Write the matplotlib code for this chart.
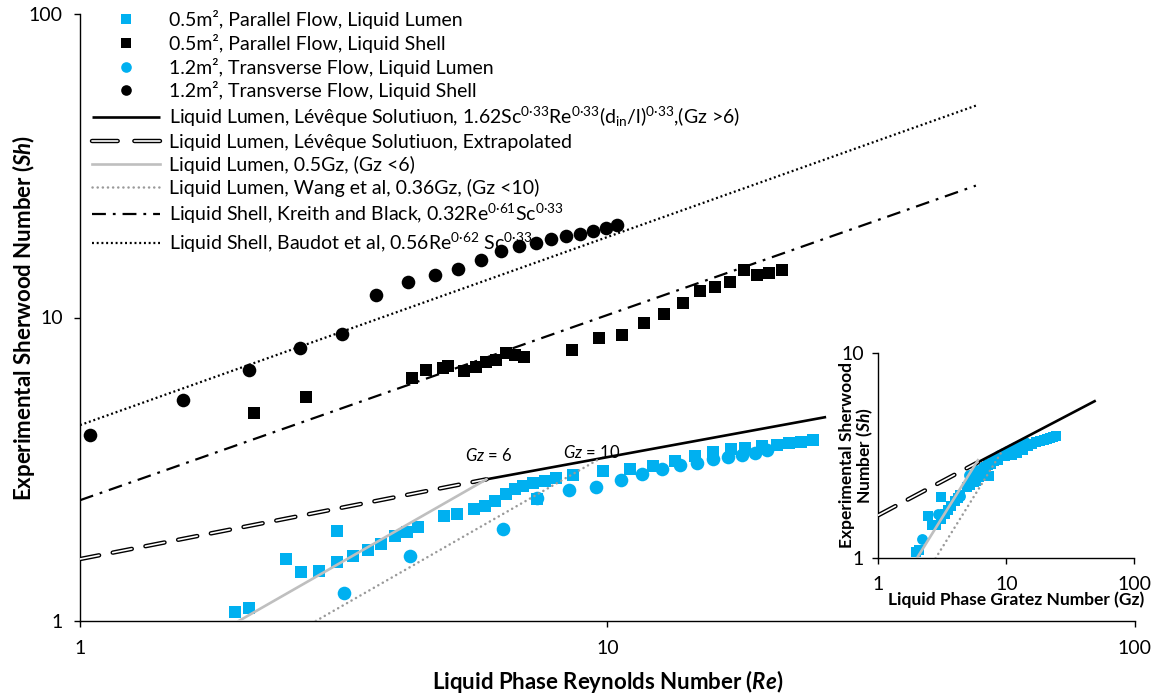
import matplotlib
matplotlib.use("Agg")
import matplotlib.pyplot as plt
from matplotlib.lines import Line2D
from matplotlib.ticker import NullLocator
from matplotlib.legend_handler import HandlerTuple

plt.rcParams["font.family"] = ["Lato", "DejaVu Sans"]
plt.rcParams["mathtext.fontset"] = "custom"
plt.rcParams["mathtext.rm"] = "Lato"
plt.rcParams["mathtext.it"] = "Lato:italic"
plt.rcParams["mathtext.bf"] = "Lato:bold"
plt.rcParams["mathtext.bfit"] = "Lato:bold:italic"
plt.rcParams["lines.scale_dashes"] = False

BLUE = "#00B0F0"

# 0.5 m2 module, parallel flow, liquid in the lumen
lumen_sq_re = [1.97, 2.09, 2.46, 2.63, 2.84, 3.07, 3.07, 3.29, 3.51, 3.72, 3.95, 4.17,
               4.38, 4.91, 5.19, 5.59, 5.85, 6.13, 6.43, 6.68, 6.93, 7.24, 7.37, 7.62,
               7.99, 8.60, 9.80, 11.04, 12.23, 13.44, 14.67, 15.89, 17.14, 18.27, 19.63,
               20.96, 22.14, 23.27, 24.59]
lumen_sq_sh = [1.07, 1.10, 1.60, 1.45, 1.46, 1.98, 1.56, 1.64, 1.71, 1.80, 1.91, 1.97,
               2.04, 2.21, 2.26, 2.34, 2.39, 2.49, 2.63, 2.72, 2.79, 2.84, 2.52, 2.89,
               2.97, 3.02, 3.13, 3.18, 3.24, 3.37, 3.50, 3.61, 3.68, 3.72, 3.77,
               3.80, 3.85, 3.89, 3.95]
# Gz and Re coincide for the 0.5 m2 module
lumen_sq_gz = lumen_sq_re

# 0.5 m2 module, parallel flow, liquid on the shell side
shell_sq_re = [2.14, 2.68, 4.27, 4.53, 4.87, 4.99, 5.35, 5.64, 5.89, 6.15, 6.43, 6.68,
               6.95, 8.56, 9.63, 10.66, 11.74, 12.81, 13.9, 15.0, 16.0, 17.1, 18.2,
               19.2, 20.3, 21.4]
shell_sq_sh = [4.86, 5.46, 6.33, 6.70, 6.83, 6.94, 6.66, 6.88, 7.12, 7.24, 7.66, 7.52,
               7.39, 7.81, 8.58, 8.78, 9.61, 10.27, 11.19, 12.26, 12.64, 13.1, 14.3,
               13.8, 14.0, 14.3]

# 1.2 m2 module, transverse flow, liquid in the lumen
lumen_ci_re = [3.17, 4.23, 6.34, 7.37, 8.46, 9.52, 10.6, 11.64, 12.68, 13.74, 14.82,
               15.87, 16.96, 17.98, 19.06, 20.11]
lumen_ci_sh = [1.24, 1.64, 2.01, 2.55, 2.70, 2.77, 2.91, 3.05, 3.17, 3.26, 3.32,
               3.41, 3.48, 3.52, 3.58, 3.66]
lumen_ci_gz = [2.19, 2.92, 4.37, 5.09, 5.84, 6.57, 7.31, 8.03, 8.75, 9.48, 10.2,
               10.95, 11.7, 12.4, 13.15, 13.9]

# 1.2 m2 module, transverse flow, liquid on the shell side
shell_ci_re = [1.044, 1.568, 2.09, 2.61, 3.14, 3.65, 4.18, 4.71, 5.22, 5.75, 6.28,
               6.80, 7.34, 7.83, 8.35, 8.87, 9.38, 9.96, 10.45]
shell_ci_sh = [4.09, 5.34, 6.70, 7.95, 8.84, 11.9, 13.1, 13.8, 14.5, 15.5, 16.6,
               17.2, 17.6, 18.1, 18.6, 18.9, 19.3, 19.7, 20.1]

# correlation end points (main plot, x = Re)
leveque_re, leveque_sh = [5.9, 26.0], [2.93, 4.70]
leveque_ext_re, leveque_ext_sh = [1.0, 5.9], [1.60, 2.93]
half_gz_re, half_gz_sh = [2.0, 5.9], [1.0, 2.93]
wang_re, wang_sh = [2.8, 9.6], [1.0, 3.40]
kreith_re, kreith_sh = [1.0, 50.0], [2.50, 27.2]
baudot_re, baudot_sh = [1.0, 50.0], [4.42, 49.9]

# correlation end points (inset, x = Gz)
leveque_gz, leveque_gz_sh = [6.0, 50.0], [2.93, 5.85]
leveque_ext_gz, leveque_ext_gz_sh = [1.0, 6.0], [1.62, 2.93]
half_gz_gz, half_gz_gz_sh = [2.0, 6.0], [1.0, 3.0]
wang_gz, wang_gz_sh = [2.8, 9.3], [1.0, 3.33]

labels = [
    "0.5m², Parallel Flow, Liquid Lumen",
    "0.5m², Parallel Flow, Liquid Shell",
    "1.2m², Transverse Flow, Liquid Lumen",
    "1.2m², Transverse Flow, Liquid Shell",
    r"Liquid Lumen, Lévêque Solutiuon, 1.62Sc$^{\mathrm{0·33}}$Re$^{\mathrm{0·33}}$"
    r"(d$_{\mathrm{in}}$/l)$^{\mathrm{0·33}}$,(Gz >6)",
    "Liquid Lumen, Lévêque Solutiuon, Extrapolated",
    "Liquid Lumen, 0.5Gz, (Gz <6)",
    "Liquid Lumen, Wang et al, 0.36Gz, (Gz <10)",
    r"Liquid Shell, Kreith and Black, 0.32Re$^{\mathrm{0·61}}$Sc$^{\mathrm{0·33}}$",
    r"Liquid Shell, Baudot et al, 0.56Re$^{\mathrm{0·62}}$ Sc$^{\mathrm{0·33}}$",
]

W, H = 1159, 700
fig = plt.figure(figsize=(W / 100, H / 100), dpi=100)
ax = fig.add_axes([80 / W, 1 - 621 / H, 1054.6 / W, 607 / H])

MS = 9.2
sq1, = ax.plot(lumen_sq_re, lumen_sq_sh, "s", color=BLUE, ms=MS, mew=0, zorder=3)
sq2, = ax.plot(shell_sq_re, shell_sq_sh, "s", color="black", ms=MS, mew=0, zorder=3)
ci1, = ax.plot(lumen_ci_re, lumen_ci_sh, "o", color=BLUE, ms=MS + 0.6, mew=0, zorder=3)
ci2, = ax.plot(shell_ci_re, shell_ci_sh, "o", color="black", ms=MS + 0.6, mew=0, zorder=3)

HOLLOW_DASH = (0, (14, 10))


def draw_lines(a, lev, ext, half, wang, kreith=None, baudot=None):
    out = []
    out.append(a.plot(*lev, color="black", lw=1.9, solid_capstyle="butt", zorder=4)[0])
    # hollow dashes: thick black dash with a thin white dash on top
    a.plot(*ext, color="black", lw=3.2, ls=HOLLOW_DASH, dash_capstyle="round", zorder=4)
    a.plot(*ext, color="white", lw=1.2, ls=HOLLOW_DASH, dash_capstyle="round", zorder=4)
    out.append(None)
    out.append(a.plot(*half, color="#BFBFBF", lw=1.9, zorder=4)[0])
    out.append(a.plot(*wang, color="#9A9A9A", lw=1.8, ls=(0, (0.1, 3.6)),
                      dash_capstyle="round", zorder=4)[0])
    if kreith is not None:
        out.append(a.plot(*kreith, color="black", lw=1.6, ls=(0, (10, 5, 2, 5)),
                          zorder=4)[0])
        out.append(a.plot(*baudot, color="black", lw=1.6, ls=(0, (1.4, 2.0)),
                          zorder=4)[0])
    return out


line_handles = draw_lines(ax, (leveque_re, leveque_sh), (leveque_ext_re, leveque_ext_sh),
                          (half_gz_re, half_gz_sh), (wang_re, wang_sh),
                          (kreith_re, kreith_sh), (baudot_re, baudot_sh))
# legend key for the hollow dashes: two dashes across the key
line_handles[1] = (
    Line2D([], [], color="black", lw=3.2, ls=(0, (18.5, 12)), dash_capstyle="round"),
    Line2D([], [], color="white", lw=1.2, ls=(0, (18.5, 12)), dash_capstyle="round"),
)

ax.text(5.97, 3.50, r"$\mathit{Gz}$ = 6", fontsize=12, ha="center", va="center")
ax.text(9.35, 3.58, r"$\mathit{Gz}$ = 10", fontsize=12, ha="center", va="center")


def style_log_axes(a, xlim, ylim, pad_x, pad_y, size):
    a.set_xscale("log")
    a.set_yscale("log")
    a.set_xlim(*xlim)
    a.set_ylim(*ylim)
    xt = [v for v in (1, 10, 100) if xlim[0] <= v <= xlim[1]]
    yt = [v for v in (1, 10, 100) if ylim[0] <= v <= ylim[1]]
    a.set_xticks(xt)
    a.set_xticklabels([str(v) for v in xt])
    a.set_yticks(yt)
    a.set_yticklabels([str(v) for v in yt])
    a.xaxis.set_minor_locator(NullLocator())
    a.yaxis.set_minor_locator(NullLocator())
    for s in ("top", "right"):
        a.spines[s].set_visible(False)
    for s in ("left", "bottom"):
        a.spines[s].set_linewidth(1.0)
        a.spines[s].set_color("black")
    a.tick_params(axis="x", direction="out", length=4.5, width=1, labelsize=size, pad=pad_x)
    a.tick_params(axis="y", direction="out", length=4.5, width=1, labelsize=size, pad=pad_y)


style_log_axes(ax, (1, 100), (1, 100), 9, 8, 14)
ax.set_facecolor("none")
ax.set_xlabel(r"Liquid Phase Reynolds Number ($\mathbfit{Re}$)", fontsize=16,
              fontweight="bold", labelpad=8)
ax.set_ylabel(r"Experimental Sherwood Number ($\mathbfit{Sh}$)", fontsize=16,
              fontweight="bold")
ax.yaxis.set_label_coords(-0.041, 0.5)

handles = [sq1, sq2, ci1, ci2] + line_handles
leg = ax.legend(handles, labels, loc="upper left",
                bbox_to_anchor=(92 / W, 1 - 10 / H), bbox_transform=fig.transFigure,
                frameon=False, fontsize=14, handlelength=3.5, handletextpad=0.45,
                labelspacing=0.245, borderpad=0, borderaxespad=0, markerscale=0.78,
                handler_map={tuple: HandlerTuple(ndivide=1)})

# inset: Sherwood number against Graetz number for the lumen-side data
ins = fig.add_axes([878.3 / W, 1 - 558.3 / H, 256 / W, 205.6 / H])
ins.set_facecolor("none")
ins.plot(lumen_sq_gz, lumen_sq_sh, "s", color=BLUE, ms=7.4, mew=0, zorder=3)
ins.plot(lumen_ci_gz, lumen_ci_sh, "o", color=BLUE, ms=7.8, mew=0, zorder=3)
draw_lines(ins, (leveque_gz, leveque_gz_sh), (leveque_ext_gz, leveque_ext_gz_sh),
           (half_gz_gz, half_gz_gz_sh), (wang_gz, wang_gz_sh))
style_log_axes(ins, (1, 100), (1, 10), 8, 6, 14)
ins.set_xlabel("Liquid Phase Gratez Number (Gz)", fontsize=12.5, fontweight="bold")
ins.xaxis.set_label_coords(0.54, -0.16)
ins.set_ylabel("Experimental Sherwood\n" + r"Number ($\mathbfit{Sh}$)", fontsize=12.5,
               fontweight="bold", linespacing=1.0)
ins.yaxis.set_label_coords(-0.012, 0.5)

fig.savefig("out.png", dpi=100)
